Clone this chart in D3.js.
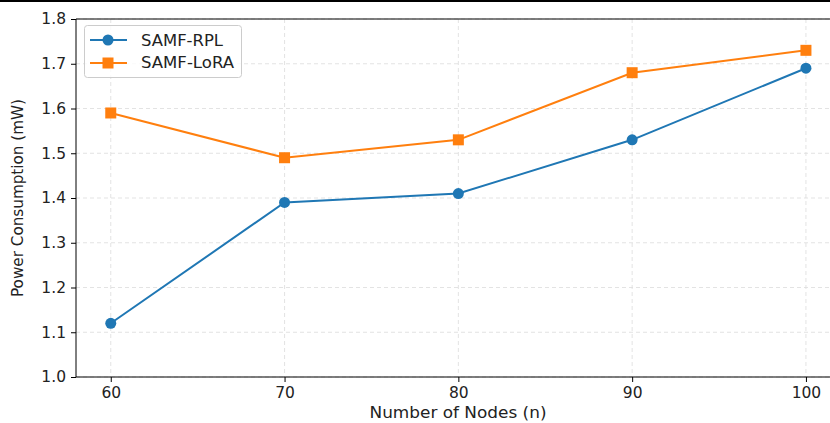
<!DOCTYPE html>
<html>
<head>
<meta charset="utf-8">
<script src="https://cdn.jsdelivr.net/npm/d3@7"></script>
<style>
  body { margin: 0; background: #fff; }
  svg { display: block; font-family: "DejaVu Sans", sans-serif; }
</style>
</head>
<body>
<svg width="830" height="423"></svg>
<script>
const nodes = [60, 70, 80, 90, 100];
const samfRpl = [1.12, 1.39, 1.41, 1.53, 1.69];
const samfLora = [1.59, 1.49, 1.53, 1.68, 1.73];
const yTicks = [1.0, 1.1, 1.2, 1.3, 1.4, 1.5, 1.6, 1.7, 1.8];

var svg = d3.select("svg");
var FS = 15.5;

var x = d3.scaleLinear().domain([58, 102]).range([76, 840.7]),
    y = d3.scaleLinear().domain([1.0, 1.8]).range([377, 19]);

// top border line of the image
svg.append("line").attr("x1", 0).attr("x2", 830).attr("y1", 1).attr("y2", 1)
    .attr("stroke", "#000").attr("stroke-width", 2);

// grid
var grid = svg.append("g").attr("stroke", "#dcdcdc").attr("stroke-dasharray", "4,3").attr("stroke-width", 0.8);
grid.selectAll(".gx").data(nodes).enter().append("line")
    .attr("x1", d => x(d)).attr("x2", d => x(d)).attr("y1", 19).attr("y2", 377);
grid.selectAll(".gy").data(yTicks).enter().append("line")
    .attr("x1", 76).attr("x2", 830).attr("y1", d => y(d)).attr("y2", d => y(d));

// axes
var xAxis = svg.append("g").attr("transform", "translate(0,377)")
    .call(d3.axisBottom(x).tickValues(nodes).tickSize(5).tickPadding(5).tickFormat(d3.format("d")));
var yAxis = svg.append("g").attr("transform", "translate(76,0)")
    .call(d3.axisLeft(y).tickValues(yTicks).tickSize(5).tickPadding(5).tickFormat(d3.format(".1f")));
[xAxis, yAxis].forEach(function(a) {
  a.select(".domain").remove();
  a.selectAll("text").attr("font-size", FS).attr("fill", "#222").attr("font-family", "DejaVu Sans");
  a.selectAll("line").attr("stroke", "#000").attr("stroke-width", 1);
});
// spines
svg.append("line").attr("x1", 76).attr("x2", 830).attr("y1", 377).attr("y2", 377).attr("stroke", "#000");
svg.append("line").attr("x1", 76).attr("x2", 76).attr("y1", 19).attr("y2", 377).attr("stroke", "#000");
svg.append("line").attr("x1", 76).attr("x2", 830).attr("y1", 19).attr("y2", 19).attr("stroke", "#000");

// labels
svg.append("text").attr("x", 458).attr("y", 418).attr("text-anchor", "middle")
    .attr("font-size", FS).attr("fill", "#222")
    .attr("textLength", 177).attr("lengthAdjust", "spacingAndGlyphs")
    .text("Number of Nodes (n)");
svg.append("text").attr("transform", "translate(23,198) rotate(-90)").attr("text-anchor", "middle")
    .attr("font-size", FS).attr("fill", "#222")
    .attr("textLength", 198).attr("lengthAdjust", "spacingAndGlyphs")
    .text("Power Consumption (mW)");

var line = d3.line().x((d, i) => x(nodes[i])).y(d => y(d));

function series(vals, color, marker) {
  svg.append("path").datum(vals).attr("d", line)
      .attr("fill", "none").attr("stroke", color).attr("stroke-width", 2);
  if (marker == "circle") {
    svg.selectAll(null).data(vals).enter().append("circle")
        .attr("cx", (d, i) => x(nodes[i])).attr("cy", d => y(d)).attr("r", 5.5).attr("fill", color);
  } else {
    svg.selectAll(null).data(vals).enter().append("rect")
        .attr("x", (d, i) => x(nodes[i]) - 5.5).attr("y", d => y(d) - 5.5)
        .attr("width", 11).attr("height", 11).attr("fill", color);
  }
}
series(samfRpl, "#1f77b4", "circle");
series(samfLora, "#ff7f0e", "square");

// legend
var lg = svg.append("g");
lg.append("rect").attr("x", 84.5).attr("y", 25.5).attr("width", 157).attr("height", 52).attr("rx", 3)
    .attr("fill", "#fff").attr("fill-opacity", 0.8).attr("stroke", "#ccc");
lg.append("line").attr("x1", 90).attr("x2", 127).attr("y1", 40).attr("y2", 40).attr("stroke", "#1f77b4").attr("stroke-width", 2);
lg.append("circle").attr("cx", 108).attr("cy", 40).attr("r", 5.5).attr("fill", "#1f77b4");
lg.append("line").attr("x1", 90).attr("x2", 127).attr("y1", 63).attr("y2", 63).attr("stroke", "#ff7f0e").attr("stroke-width", 2);
lg.append("rect").attr("x", 102.5).attr("y", 57.5).attr("width", 11).attr("height", 11).attr("fill", "#ff7f0e");
lg.append("text").attr("x", 141).attr("y", 46).attr("font-size", FS).attr("fill", "#222")
    .attr("textLength", 82).attr("lengthAdjust", "spacingAndGlyphs").text("SAMF-RPL");
lg.append("text").attr("x", 141).attr("y", 68).attr("font-size", FS).attr("fill", "#222")
    .attr("textLength", 93).attr("lengthAdjust", "spacingAndGlyphs").text("SAMF-LoRA");
</script>
</body>
</html>
